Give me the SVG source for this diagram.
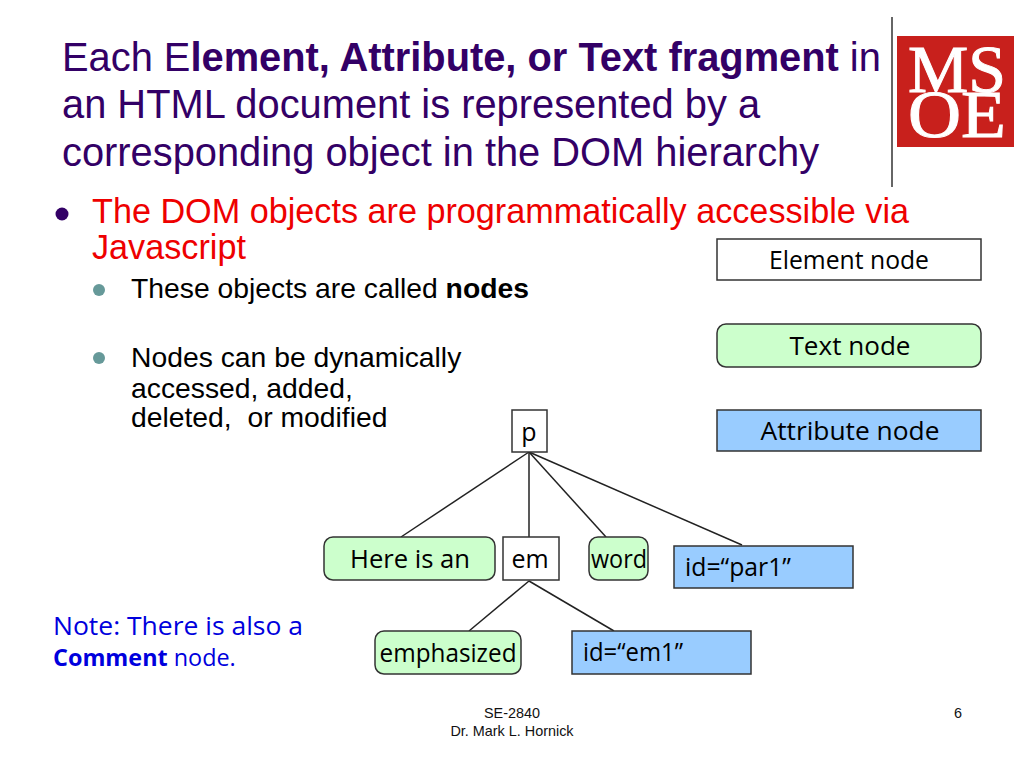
<svg xmlns="http://www.w3.org/2000/svg" width="1024" height="768" viewBox="0 0 1024 768">
<style>
text{font-family:"Liberation Sans",Arial,sans-serif}
.t{font-size:39.85px;fill:#330066}
.l1{font-size:34.2px;fill:#ee0000}
.l2{font-size:28.3px;fill:#000}
.c{font-family:"Open Sans","DejaVu Sans",sans-serif;font-size:25px;fill:#000;text-anchor:middle}
.n{font-family:"Open Sans","DejaVu Sans",sans-serif;font-size:25px;fill:#0000dd}
.box{stroke:#333;stroke-width:1.5}
.el{fill:#fff}.tx{fill:#ccffcc}.at{fill:#99ccff}
.ln{stroke:#222;stroke-width:1.5;fill:none}
.f{font-size:14.4px;fill:#111;text-anchor:middle}
.m{font-family:"Liberation Serif",serif;font-size:68px;fill:#fff;stroke:#fff;stroke-width:1}
</style>
<rect width="1024" height="768" fill="#fff"/>
<g id="title">
<text class="t" x="62" y="71">Each E<tspan font-weight="bold">lement, Attribute, or Text fragment</tspan> in</text>
<text class="t" x="62" y="118">an HTML document is represented by a</text>
<text class="t" x="62" y="166">corresponding object in the DOM hierarchy</text>
</g>
<g id="logo">
<line x1="892" y1="17" x2="892" y2="187" stroke="#333" stroke-width="1.5"/>
<rect x="897" y="36" width="117" height="111" fill="#c8201c"/>
<text class="m"><tspan x="908" y="92" textLength="98" lengthAdjust="spacingAndGlyphs">MS</tspan><tspan x="908" y="137" textLength="98" lengthAdjust="spacingAndGlyphs">OE</tspan></text>
</g>
<g id="bullets">
<circle cx="62" cy="214" r="6.5" fill="#330066"/>
<text class="l1" x="92" y="223">The DOM objects are programmatically accessible via</text>
<text class="l1" x="92" y="259">Javascript</text>
<circle cx="99" cy="290" r="6" fill="#669999"/>
<text class="l2" x="131" y="298">These objects are called <tspan font-weight="bold">nodes</tspan></text>
<circle cx="99" cy="358" r="6" fill="#669999"/>
<text class="l2" x="131" y="367">Nodes can be dynamically</text>
<text class="l2" x="131" y="398">accessed, added,</text>
<text class="l2" x="131" y="427">deleted,&#160; or modified</text>
</g>
<g id="note">
<text class="n" x="53" y="635" textLength="250" lengthAdjust="spacingAndGlyphs">Note: There is also a</text>
<text class="n" x="53" y="666" font-size="23.4" style="font-size:23.4px"><tspan font-weight="bold">Comment</tspan> node.</text>
</g>
<g id="connectors">
<line class="ln" x1="529" y1="452" x2="401" y2="537"/>
<line class="ln" x1="529" y1="452" x2="529" y2="537"/>
<line class="ln" x1="529" y1="452" x2="606" y2="537"/>
<line class="ln" x1="529" y1="452" x2="742" y2="545"/>
<line class="ln" x1="529" y1="581" x2="469" y2="631"/>
<line class="ln" x1="529" y1="581" x2="614" y2="631"/>
</g>
<g id="legend-element"><rect class="box el" x="717" y="239" width="264" height="41"/><text class="c" x="849" y="269" textLength="160" lengthAdjust="spacingAndGlyphs">Element node</text></g>
<g id="legend-text"><rect class="box tx" x="717" y="324" width="264" height="43" rx="9"/><text class="c" x="850" y="355" textLength="121" lengthAdjust="spacingAndGlyphs">Text node</text></g>
<g id="legend-attribute"><rect class="box at" x="717" y="410" width="264" height="41"/><text class="c" x="850" y="440" textLength="179" lengthAdjust="spacingAndGlyphs">Attribute node</text></g>
<g id="node-p"><rect class="box el" x="512" y="410" width="35" height="42"/><text class="c" x="529" y="441">p</text></g>
<g id="node-here"><rect class="box tx" x="324" y="537" width="171" height="43" rx="9"/><text class="c" x="410" y="568" textLength="120" lengthAdjust="spacingAndGlyphs">Here is an</text></g>
<g id="node-em"><rect class="box el" x="503" y="537" width="56" height="43"/><text class="c" x="530" y="568">em</text></g>
<g id="node-word"><rect class="box tx" x="589" y="537" width="59" height="43" rx="9"/><text class="c" x="619" y="568" textLength="56" lengthAdjust="spacingAndGlyphs">word</text></g>
<g id="node-idpar"><rect class="box at" x="674" y="546" width="179" height="42"/><text class="c" x="738" y="576" textLength="106" lengthAdjust="spacingAndGlyphs">id=“par1”</text></g>
<g id="node-emph"><rect class="box tx" x="375" y="631" width="146" height="43" rx="9"/><text class="c" x="448" y="662" textLength="137" lengthAdjust="spacingAndGlyphs">emphasized</text></g>
<g id="node-idem"><rect class="box at" x="572" y="631" width="179" height="43"/><text class="c" x="633" y="661" textLength="100" lengthAdjust="spacingAndGlyphs">id=“em1”</text></g>
<g id="footer">
<text class="f" x="512" y="718">SE-2840</text>
<text class="f" x="512" y="736">Dr. Mark L. Hornick</text>
<text class="f" x="958" y="718">6</text>
</g>
</svg>
